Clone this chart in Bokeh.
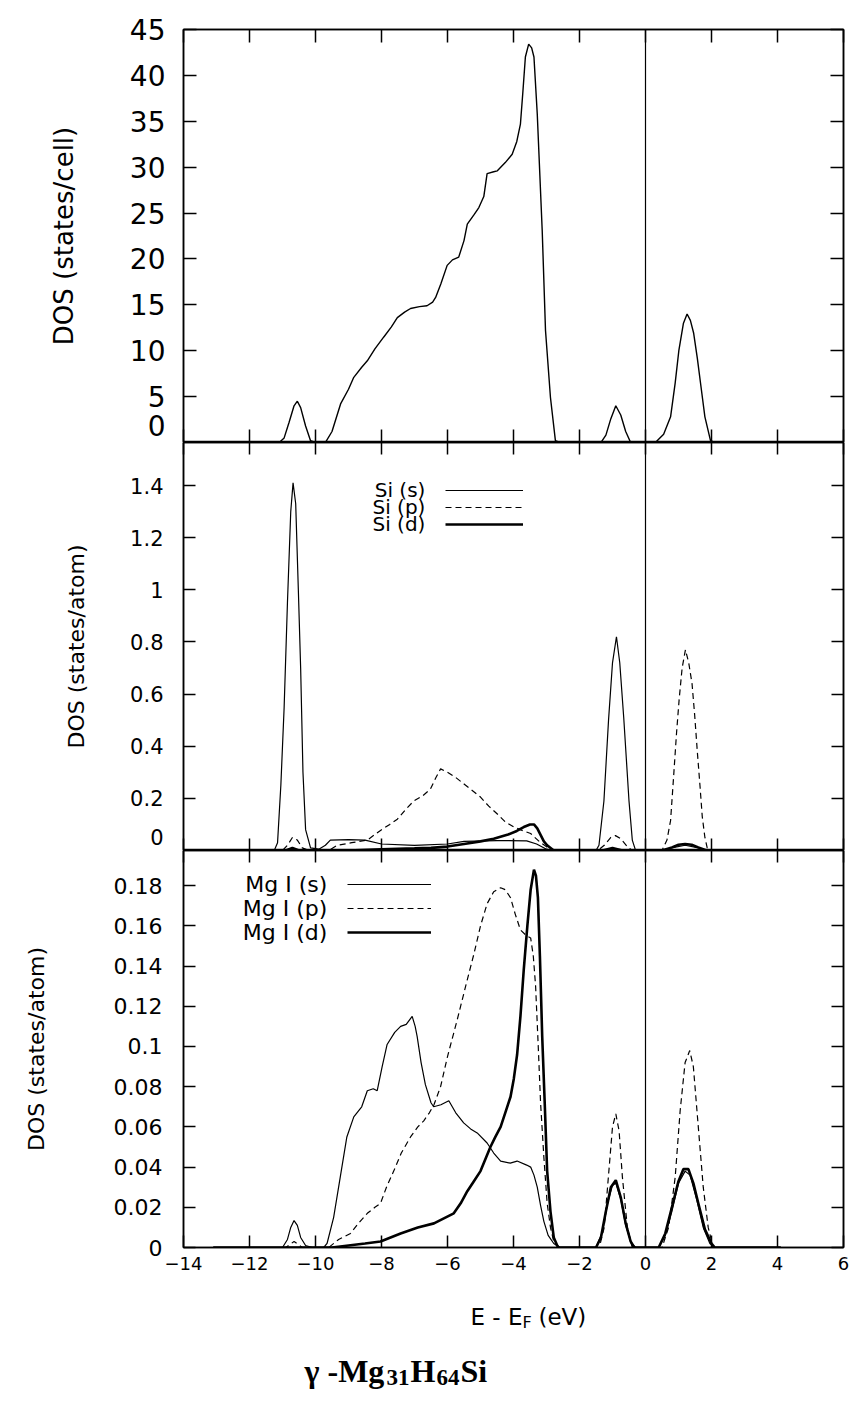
from bokeh.plotting import figure
from bokeh.layouts import column
from bokeh.models import (Range1d, LinearAxis, FixedTicker, NumeralTickFormatter,
                          Span, Legend, LegendItem)
from bokeh.core.properties import value
from bokeh.embed import file_html
from bokeh.resources import INLINE

# ---------------- data ----------------
x_ticks = [-14, -12, -10, -8, -6, -4, -2, 0, 2, 4, 6]
top_ticks = [0, 5, 10, 15, 20, 25, 30, 35, 40, 45]
mid_ticks = [0, 0.2, 0.4, 0.6, 0.8, 1.0, 1.2, 1.4]
bot_ticks = [0, 0.02, 0.04, 0.06, 0.08, 0.1, 0.12, 0.14, 0.16, 0.18]

# total DOS (states/cell)
tot_E = [-13.1, -11.1, -10.95, -10.8, -10.65, -10.55, -10.45, -10.3, -10.15, -10.0,
         -9.7, -9.5, -9.24, -9.0, -8.84, -8.6, -8.43, -8.2, -7.93, -7.7, -7.52, -7.3,
         -7.12, -6.85, -6.62, -6.45, -6.36, -6.2, -6.01, -5.85, -5.66, -5.5, -5.4,
         -5.2, -5.05, -4.9, -4.8, -4.6, -4.49, -4.25, -4.04, -3.9, -3.79, -3.72, -3.64,
         -3.54, -3.45, -3.38, -3.28, -3.2, -3.13, -3.03, -2.88, -2.73, -2.6,
         -1.35, -1.2, -1.05, -0.9, -0.75, -0.6, -0.45,
         0.3, 0.55, 0.76, 0.9, 1.01, 1.15, 1.26, 1.36, 1.46, 1.57, 1.67, 1.8, 1.97, 2.1, 4.1]
tot_dos = [0, 0, 0.5, 2.2, 4.0, 4.5, 3.8, 1.8, 0.2, 0,
           0, 1.2, 4.2, 5.8, 7.1, 8.2, 8.9, 10.2, 11.5, 12.6, 13.6, 14.2,
           14.6, 14.8, 14.9, 15.3, 15.8, 17.3, 19.3, 19.9, 20.2, 22.0, 23.8,
           24.8, 25.6, 26.8, 29.3, 29.5, 29.6, 30.5, 31.4, 32.8, 34.7, 38.0, 42.0,
           43.4, 43.0, 42.0, 35.8, 29.0, 23.1, 12.2, 4.9, 0.2, 0,
           0, 0.8, 2.6, 4.0, 3.0, 1.2, 0,
           0, 0.9, 2.8, 6.5, 10.0, 13.0, 14.0, 13.3, 11.9, 9.2, 6.4, 2.8, 0.2, 0, 0]

# Si partial DOS (states/atom)
sis_E = [-13.1, -11.25, -11.15, -11.05, -10.95, -10.85, -10.75, -10.68, -10.6, -10.52,
         -10.45, -10.38, -10.3, -10.15, -9.9, -9.7, -9.55, -9.0, -8.5, -8.0, -7.0, -6.0,
         -5.5, -4.5, -3.6, -3.3, -3.0, -2.8, -1.5, -1.41, -1.26, -1.12, -1.0, -0.88,
         -0.78, -0.66, -0.5, -0.4, -0.3, 0.5, 0.8, 1.2, 1.6, 1.9, 4.1]
sis = [0, 0, 0.03, 0.25, 0.55, 0.95, 1.3, 1.41, 1.33, 1.0,
       0.7, 0.3, 0.08, 0.01, 0.005, 0.02, 0.04, 0.042, 0.04, 0.025, 0.02, 0.025,
       0.035, 0.038, 0.037, 0.025, 0.005, 0, 0, 0.02, 0.19, 0.5, 0.72, 0.82,
       0.72, 0.51, 0.19, 0.04, 0, 0, 0.01, 0.02, 0.01, 0, 0]

sip_E = [-13.1, -11.0, -10.85, -10.7, -10.55, -10.4, -10.2, -9.6, -9.34, -8.9, -8.43,
         -8.03, -7.75, -7.52, -7.25, -7.02, -6.75, -6.52, -6.35, -6.21, -6.0, -5.75,
         -5.5, -5.25, -5.0, -4.75, -4.49, -4.25, -3.99, -3.7, -3.48, -3.18, -2.88, -2.7,
         -1.45, -1.25, -1.05, -0.91, -0.75, -0.55, -0.4, 0.5, 0.65, 0.76, 0.85, 0.94,
         1.02, 1.11, 1.21, 1.31, 1.41, 1.49, 1.57, 1.65, 1.72, 1.8, 1.87, 2.0, 4.1]
sip = [0, 0, 0.02, 0.05, 0.04, 0.01, 0, 0, 0.02, 0.03, 0.04,
       0.077, 0.1, 0.12, 0.16, 0.19, 0.21, 0.235, 0.28, 0.313, 0.3, 0.28,
       0.255, 0.23, 0.205, 0.17, 0.14, 0.11, 0.09, 0.075, 0.065, 0.03, 0.005, 0,
       0, 0.02, 0.05, 0.057, 0.045, 0.015, 0, 0, 0.04, 0.115, 0.28, 0.45,
       0.58, 0.7, 0.77, 0.72, 0.64, 0.52, 0.38, 0.25, 0.13, 0.05, 0.01, 0, 0]

sid_E = [-13.1, -10.9, -10.7, -10.5, -9.0, -8.0, -7.0, -6.5, -6.0, -5.5, -5.0, -4.6,
         -4.19, -3.9, -3.69, -3.5, -3.38, -3.28, -3.18, -3.08, -2.98, -2.78, -1.3, -1.0,
         -0.7, 0.5, 0.8, 1.0, 1.2, 1.4, 1.6, 1.85, 4.1]
sid = [0, 0, 0.01, 0, 0, 0.005, 0.008, 0.01, 0.015, 0.025, 0.035, 0.045,
       0.06, 0.075, 0.09, 0.1, 0.1, 0.085, 0.06, 0.035, 0.02, 0, 0, 0.01,
       0, 0, 0.012, 0.022, 0.025, 0.022, 0.012, 0, 0]

# Mg I partial DOS (states/atom)
mgs_E = [-13.1, -11.0, -10.85, -10.75, -10.65, -10.55, -10.45, -10.3, -10.1, -9.75,
         -9.65, -9.45, -9.25, -9.05, -8.84, -8.6, -8.43, -8.25, -8.13, -7.98, -7.83,
         -7.6, -7.42, -7.25, -7.07, -6.98, -6.92, -6.8, -6.67, -6.5, -6.42, -6.2, -5.96,
         -5.75, -5.51, -5.3, -5.1, -4.8, -4.6, -4.39, -4.1, -3.89, -3.6, -3.48, -3.38,
         -3.28, -3.18, -3.08, -2.95, -2.78, -2.6, -1.5, -1.3, -1.15, -1.0, -0.9, -0.75,
         -0.6, -0.45, -0.3, 0.4, 0.6, 0.8, 1.0, 1.2, 1.35, 1.55, 1.75, 1.95, 2.1, 4.1]
mgs = [0, 0, 0.004, 0.01, 0.0134, 0.011, 0.005, 0.001, 0, 0,
       0.002, 0.015, 0.035, 0.055, 0.065, 0.07, 0.078, 0.079, 0.078, 0.09, 0.101,
       0.107, 0.11, 0.111, 0.115, 0.11, 0.105, 0.092, 0.081, 0.072, 0.07, 0.071, 0.073,
       0.067, 0.062, 0.059, 0.057, 0.052, 0.047, 0.043, 0.042, 0.043, 0.041, 0.04, 0.036,
       0.03, 0.021, 0.013, 0.006, 0.002, 0, 0, 0.008, 0.022, 0.031, 0.032, 0.024,
       0.011, 0.003, 0, 0, 0.006, 0.018, 0.032, 0.038, 0.036, 0.024, 0.01, 0.002, 0, 0]

mgp_E = [-13.1, -10.9, -10.65, -10.4, -9.6, -9.3, -8.94, -8.7, -8.43, -8.2, -8.03,
         -7.85, -7.63, -7.4, -7.12, -6.9, -6.72, -6.55, -6.41, -6.21, -6.0, -5.71,
         -5.45, -5.2, -5.0, -4.8, -4.6, -4.39, -4.25, -4.09, -3.95, -3.79, -3.6, -3.48,
         -3.4, -3.33, -3.25, -3.18, -3.08, -2.98, -2.88, -2.78, -2.6, -1.4, -1.25, -1.1,
         -1.0, -0.9, -0.8, -0.7, -0.55, -0.4, 0.5, 0.7, 0.9, 1.05, 1.2, 1.34, 1.45, 1.6,
         1.75, 1.9, 2.05, 4.1]
mgp = [0, 0, 0.003, 0, 0, 0.004, 0.007, 0.012, 0.017, 0.02, 0.022,
       0.03, 0.038, 0.047, 0.055, 0.06, 0.063, 0.067, 0.071, 0.08, 0.095, 0.113,
       0.13, 0.146, 0.16, 0.171, 0.177, 0.179, 0.178, 0.174, 0.166, 0.158, 0.155, 0.154,
       0.145, 0.13, 0.1, 0.072, 0.045, 0.022, 0.01, 0.003, 0, 0, 0.01, 0.04,
       0.06, 0.0665, 0.058, 0.035, 0.01, 0, 0, 0.01, 0.035, 0.068, 0.092, 0.098, 0.09, 0.06,
       0.03, 0.01, 0, 0]

mgd_E = [-13.1, -9.5, -9.0, -8.5, -8.03, -7.42, -6.9, -6.41, -5.81, -5.6, -5.4, -5.2,
         -5.0, -4.85, -4.7, -4.55, -4.39, -4.25, -4.09, -3.99, -3.89, -3.79, -3.69,
         -3.58, -3.48, -3.38, -3.32, -3.26, -3.2, -3.13, -3.05, -2.98, -2.88, -2.78,
         -2.65, -1.5, -1.35, -1.2, -1.05, -0.9, -0.75, -0.6, -0.45, -0.35, 0.4, 0.6,
         0.8, 1.0, 1.15, 1.3, 1.45, 1.6, 1.8, 2.0, 2.1, 4.1]
mgd = [0, 0, 0.001, 0.002, 0.003, 0.007, 0.01, 0.012, 0.017, 0.022, 0.028, 0.033,
       0.038, 0.044, 0.05, 0.055, 0.06, 0.067, 0.075, 0.084, 0.096, 0.115, 0.138,
       0.16, 0.178, 0.188, 0.185, 0.174, 0.145, 0.105, 0.07, 0.038, 0.018, 0.005,
       0, 0, 0.005, 0.018, 0.03, 0.0335, 0.025, 0.012, 0.003, 0, 0, 0.007,
       0.02, 0.033, 0.039, 0.039, 0.032, 0.022, 0.009, 0.002, 0, 0]

si_labels = ["Si (s)", "Si (p)", "Si (d)"]
mg_labels = ["Mg I (s)", "Mg I (p)", "Mg I (d)"]
top_ylabel = "DOS (states/cell)"
atom_ylabel = "DOS (states/atom)"
xlabel_parts = ["E - E", "F", "(eV)"]
caption_parts = ["γ -Mg", "31", "H", "64", "Si"]

# ---------------- styling helpers ----------------
FONT = "DejaVu Sans"
SERIF = "Liberation Serif"
FRAME_W = 660
LEFT = 183
RIGHT = 16


def make_fig(frame_h, ymax, border_top, border_bottom):
    p = figure(frame_width=FRAME_W, frame_height=frame_h,
               x_range=Range1d(-14, 6), y_range=Range1d(0, ymax),
               y_axis_location=None,
               output_backend="svg", toolbar_location=None,
               min_border_left=LEFT, min_border_right=RIGHT,
               min_border_top=border_top, min_border_bottom=border_bottom,
               background_fill_color="white", border_fill_color="white")
    p.xgrid.visible = False
    p.ygrid.visible = False
    p.outline_line_color = "black"
    p.outline_line_width = 1.5
    return p


def tick_style(ax, ticker, tick_len):
    ax.ticker = ticker
    ax.major_tick_in = tick_len
    ax.major_tick_out = 0
    ax.minor_tick_in = 0
    ax.minor_tick_out = 0
    ax.major_tick_line_color = "black"
    ax.major_tick_line_width = 1.5
    ax.axis_line_color = "black"
    ax.axis_line_width = 1.5


def hide_labels(ax):
    ax.major_label_text_font_size = "0px"
    ax.major_label_text_color = None
    ax.major_label_standoff = 0
    ax.axis_label = None


def ticks_only_axis(p, ticker, side, tick_len):
    ax = LinearAxis()
    tick_style(ax, ticker, tick_len)
    hide_labels(ax)
    p.add_layout(ax, side)
    return ax


def label_axis(p, ticks, zero_pos, label, tick_size, label_size, standoff, label_standoff):
    # y tick labels (the "0" label is lifted above the panel edge, as in the original)
    shown = [zero_pos] + [t for t in ticks if t != 0]
    ax = LinearAxis(ticker=FixedTicker(ticks=shown))
    ax.major_tick_in = 0
    ax.major_tick_out = 0
    ax.minor_tick_in = 0
    ax.minor_tick_out = 0
    ax.axis_line_color = None
    ax.formatter = NumeralTickFormatter(format="0.[00]")
    ax.major_label_overrides = {zero_pos: "0"}
    ax.major_label_text_font = FONT
    ax.major_label_text_font_size = tick_size
    ax.major_label_text_color = "black"
    ax.major_label_standoff = standoff
    ax.axis_label = label
    ax.axis_label_text_font = FONT
    ax.axis_label_text_font_size = label_size
    ax.axis_label_text_font_style = "normal"
    ax.axis_label_text_color = "black"
    ax.axis_label_standoff = label_standoff
    p.add_layout(ax, "left")


def fermi(p):
    p.add_layout(Span(location=0, dimension="height", line_color="black", line_width=1.2))


def side_legend(p, renderers, x0, ytop, glyph_w, row_h, gap):
    items = [LegendItem(label=value(" "), renderers=[r]) for r in renderers]
    n = len(items)
    h = n * row_h + (n - 1) * gap
    lg = Legend(items=items, location=(x0, ytop - h), orientation="vertical",
                glyph_width=glyph_w, glyph_height=row_h, label_height=row_h,
                spacing=gap, padding=0, margin=0, label_standoff=0, label_width=0,
                label_text_font_size="1px", border_line_alpha=0,
                background_fill_alpha=0)
    p.add_layout(lg)


xticker = FixedTicker(ticks=x_ticks)

# ---------------- top panel: total DOS ----------------
p1 = make_fig(413, 45, 29, 0)
tick_style(p1.xaxis[0], xticker, 13)
hide_labels(p1.xaxis[0])
ticks_only_axis(p1, FixedTicker(ticks=top_ticks), "left", 13)
label_axis(p1, top_ticks, 1.8, top_ylabel, "28px", "26px", 18, 48)
ticks_only_axis(p1, FixedTicker(ticks=top_ticks), "right", 13)
ticks_only_axis(p1, xticker, "above", 13)
p1.line(tot_E, tot_dos, line_color="black", line_width=1.4)
fermi(p1)

# ---------------- middle panel: Si ----------------
p2 = make_fig(408, 1.565, 0, 0)
tick_style(p2.xaxis[0], xticker, 12)
hide_labels(p2.xaxis[0])
ticks_only_axis(p2, FixedTicker(ticks=mid_ticks), "left", 12)
label_axis(p2, mid_ticks, 0.05, atom_ylabel, "21px", "22px", 20, 38)
ticks_only_axis(p2, FixedTicker(ticks=mid_ticks), "right", 12)
ticks_only_axis(p2, xticker, "above", 12)
r_ss = p2.line(sis_E, sis, line_color="black", line_width=1.2)
r_sp = p2.line(sip_E, sip, line_color="black", line_width=1.2, line_dash="6 4")
r_sd = p2.line(sid_E, sid, line_color="black", line_width=2.6)
fermi(p2)
side_legend(p2, [r_ss, r_sp, r_sd], 262, 367, 78, 14, 3)
for i, t in enumerate(si_labels):
    p2.text(x=[-6.67], y=[1.381 - i * 0.0652], text=[t], text_font=value(FONT),
            text_font_size=value("20px"), text_align="right", text_baseline="middle",
            text_color="black")

# ---------------- bottom panel: Mg I ----------------
p3 = make_fig(397, 0.1975, 0, 0)
xa = p3.xaxis[0]
tick_style(xa, xticker, 12)
xa.major_label_text_font = FONT
xa.major_label_text_font_size = "18px"
xa.major_label_text_color = "black"
xa.major_label_standoff = 9
ticks_only_axis(p3, FixedTicker(ticks=bot_ticks), "left", 12)
label_axis(p3, bot_ticks, 0, atom_ylabel, "22px", "22px", 21, 62)
ticks_only_axis(p3, FixedTicker(ticks=bot_ticks), "right", 12)
ticks_only_axis(p3, xticker, "above", 12)
r_ms = p3.line(mgs_E, mgs, line_color="black", line_width=1.2)
r_mp = p3.line(mgp_E, mgp, line_color="black", line_width=1.2, line_dash="6 4")
r_md = p3.line(mgd_E, mgd, line_color="black", line_width=2.6)
fermi(p3)
side_legend(p3, [r_ms, r_mp, r_md], 164, 373, 84, 20, 4)
for i, t in enumerate(mg_labels):
    p3.text(x=[-9.64], y=[0.1806 - i * 0.01194], text=[t], text_font=value(FONT),
            text_font_size=value("22px"), text_align="right", text_baseline="middle",
            text_color="black")

# ---------------- caption strip (x-axis title and compound name) ----------------
TOP4 = 1283
H4 = 1401 - TOP4
p4 = figure(frame_width=FRAME_W, frame_height=H4, x_range=Range1d(LEFT, LEFT + FRAME_W),
            y_range=Range1d(TOP4 + H4, TOP4), x_axis_location=None, y_axis_location=None,
            output_backend="svg", toolbar_location=None,
            min_border_left=LEFT, min_border_right=RIGHT, min_border_top=0,
            min_border_bottom=0,
            background_fill_color="white", border_fill_color="white")
p4.outline_line_color = None
p4.xgrid.visible = False
p4.ygrid.visible = False
p4.text(x=[522], y=[1327], text=[xlabel_parts[0]], text_font=value(FONT),
        text_font_size=value("23px"), text_align="right", text_baseline="alphabetic")
p4.text(x=[522], y=[1333], text=[xlabel_parts[1]], text_font=value(FONT),
        text_font_size=value("16px"), text_align="left", text_baseline="alphabetic")
p4.text(x=[538], y=[1327], text=[xlabel_parts[2]], text_font=value(FONT),
        text_font_size=value("23px"), text_align="left", text_baseline="alphabetic")
cap_x = [304, 386, 410, 436, 460]
cap_y = [1381, 1388, 1381, 1388, 1381]
cap_size = ["32px", "23px", "32px", "23px", "32px"]
for t, x, y, s in zip(caption_parts, cap_x, cap_y, cap_size):
    p4.text(x=[x], y=[y], text=[t], text_font=value(SERIF), text_font_size=value(s),
            text_font_style="bold", text_align="left", text_baseline="alphabetic",
            text_color="black")

layout = column(p1, p2, p3, p4, spacing=0)
open("out.html", "w").write(file_html(layout, INLINE))
